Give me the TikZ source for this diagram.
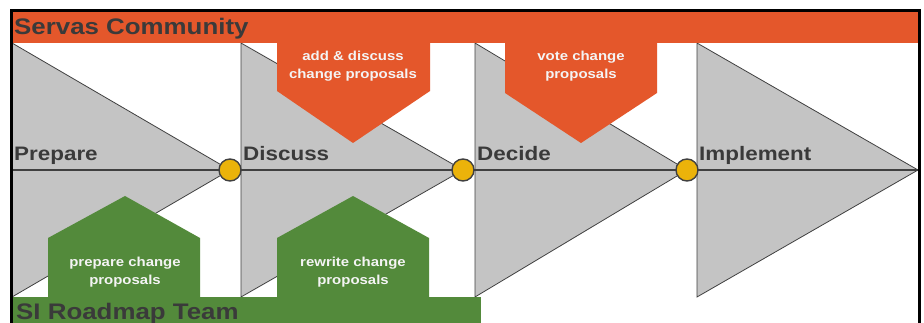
\documentclass[tikz,border=0pt]{standalone}
\usepackage{fontspec}
\setmainfont{Liberation Sans}
\definecolor{sorange}{HTML}{E4572B}
\definecolor{sgreen}{HTML}{538A3B}
\definecolor{sgray}{HTML}{C4C4C4}
\definecolor{sline}{HTML}{404040}
\definecolor{sdot}{HTML}{EBB30A}
\definecolor{stext}{HTML}{3A3A3A}
\definecolor{swhite}{HTML}{F4F4F4}
\newcommand{\hs}[1]{\scalebox{1.15}[1]{#1}}
\tikzset{
  phase/.style={fill=sgray, draw=sline, line width=0.8pt, line join=miter},
  band/.style={draw=none},
  dot/.style={circle, fill=sdot, draw=sline, line width=1.4pt, minimum size=22pt, inner sep=0pt},
  biglabel/.style={anchor=base west, inner sep=0pt, text=stext, font=\bfseries\fontsize{19.5}{23}\selectfont},
  barlabel/.style={anchor=base west, inner sep=0pt, text=stext, font=\bfseries\fontsize{22.5}{27}\selectfont},
  calltext/.style={align=center, inner sep=0pt, text=swhite, font=\bfseries\fontsize{13}{18}\selectfont},
}
\begin{document}
\begin{tikzpicture}[x=1pt, y=-1pt]
\useasboundingbox (0,0) rectangle (924,323);
\clip (0,0) rectangle (924,323);
\fill[white] (0,0) rectangle (924,323);
% phase triangles
\draw[phase] (12,43) -- (230,170) -- (12,297) -- cycle;
\draw[phase] (241,43) -- (463,170) -- (241,297) -- cycle;
\draw[phase] (475,43) -- (687,170) -- (475,297) -- cycle;
\draw[phase] (697,43) -- (918,170) -- (697,297) -- cycle;
% time line
\coordinate (tl0) at (12,170);
\coordinate (tl1) at (918,170);
\draw[sline, line width=1.8pt] (tl0) -- (tl1);
% community band and callouts
\fill[sorange] (11,11) rectangle (919,43);
\fill[sorange] (277,42) -- (430,42) -- (430,91) -- (353,143) -- (277,91) -- cycle;
\fill[sorange] (505,42) -- (657,42) -- (657,93) -- (581,143) -- (505,93) -- cycle;
% roadmap team band and callouts
\fill[sgreen] (11,297) rectangle (481,330);
\fill[sgreen] (48,298) -- (48,238) -- (125,196) -- (200,238) -- (200,298) -- cycle;
\fill[sgreen] (277,298) -- (277,238) -- (353,196) -- (429,238) -- (429,298) -- cycle;
% milestones
\node[dot] (m1) at (230,170) {};
\node[dot] (m2) at (463,170) {};
\node[dot] (m3) at (687,170) {};
% labels
\node[barlabel] (sc) at (14,35) {\hs{Servas Community}};
\node[barlabel] (si) at (16,319) {\hs{SI Roadmap Team}};
\node[biglabel] (p1) at (14,161) {\hs{Prepare}};
\node[biglabel] (p2) at (243,161) {\hs{Discuss}};
\node[biglabel] (p3) at (477,161) {\hs{Decide}};
\node[biglabel] (p4) at (699,161) {\hs{Implement}};
\node[calltext] (c1) at (353,66) {\hs{add \& discuss}\\\hs{change proposals}};
\node[calltext] (c2) at (581,66) {\hs{vote change}\\\hs{proposals}};
\node[calltext] (c3) at (125,272) {\hs{prepare change}\\\hs{proposals}};
\node[calltext] (c4) at (353,272) {\hs{rewrite change}\\\hs{proposals}};
% frame
\draw[black, line width=3pt] (11.5,10.5) rectangle (919.5,340);
\end{tikzpicture}
\end{document}
